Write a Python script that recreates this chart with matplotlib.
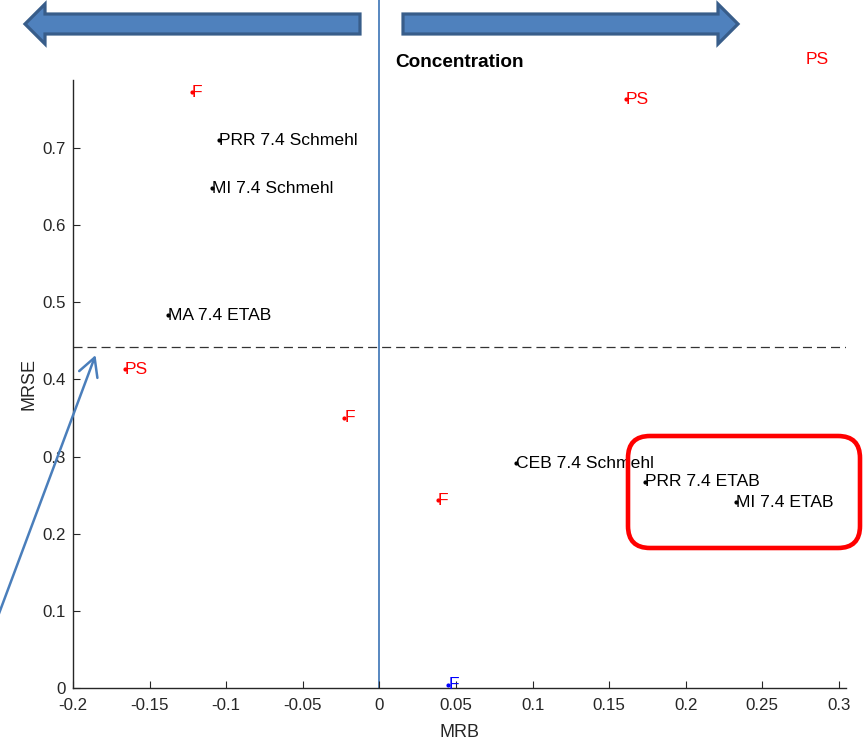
import matplotlib
matplotlib.use("Agg")
import matplotlib.pyplot as plt
from matplotlib.patches import Polygon, FancyBboxPatch, FancyArrowPatch
from matplotlib.transforms import Affine2D

plt.rcParams['font.family'] = ['Liberation Sans', 'DejaVu Sans']
plt.rcParams['lines.scale_dashes'] = False

# Method results: mean relative bias vs. mean relative standard error
labels = ['F', 'PRR 7.4 Schmehl', 'MI 7.4 Schmehl', 'MA 7.4 ETAB', 'PS', 'F', 'F',
          'F', 'CEB 7.4 Schmehl', 'PRR 7.4 ETAB', 'MI 7.4 ETAB', 'PS', 'PS']
mrb = [-0.1224, -0.1046, -0.1094, -0.1379, -0.166, -0.0229, 0.038,
       0.045, 0.0895, 0.1732, 0.2331, 0.1608, 0.2784]
mrse = [0.772, 0.710, 0.6475, 0.4834, 0.413, 0.350, 0.2436,
        0.004, 0.2916, 0.2673, 0.2406, 0.7628, 0.814]
colors = ['red', 'black', 'black', 'black', 'red', 'red', 'red',
          'blue', 'black', 'black', 'black', 'red', 'red']

threshold = 0.442
xticks = [-0.2, -0.15, -0.1, -0.05, 0, 0.05, 0.1, 0.15, 0.2, 0.25, 0.3]
xticklabels = ['-0.2', '-0.15', '-0.1', '-0.05', '0', '0.05', '0.1', '0.15', '0.2', '0.25', '0.3']
yticks = [0, 0.1, 0.2, 0.3, 0.4, 0.5, 0.6, 0.7]
yticklabels = ['0', '0.1', '0.2', '0.3', '0.4', '0.5', '0.6', '0.7']

W, H = 863, 741
fig = plt.figure(figsize=(W / 100, H / 100), dpi=100)
ax = fig.add_axes([73 / W, (H - 688) / H, (846 - 73) / W, (688 - 80) / H])

axcol = '#262626'
ax.set_xlim(-0.2, 0.3046)
ax.set_ylim(0, 0.788)
for s in ['top', 'right']:
    ax.spines[s].set_visible(False)
for s in ['left', 'bottom']:
    ax.spines[s].set_color(axcol)
    ax.spines[s].set_linewidth(1.0)
ax.set_xticks(xticks)
ax.set_xticklabels(xticklabels)
ax.set_yticks(yticks)
ax.set_yticklabels(yticklabels)
ax.tick_params(direction='in', length=5, width=0.8, colors=axcol, labelsize=12.2)
ax.tick_params(axis='x', pad=7)
ax.tick_params(axis='y', pad=5)
ax.set_xlabel('MRB', fontsize=13, color=axcol, labelpad=8)
ax.set_ylabel('MRSE', fontsize=13, color=axcol, labelpad=4)

# threshold line and zero-bias divider
ax.plot([-0.2, 0.3046], [threshold, threshold], color='#333333', lw=0.9,
        dashes=(6.5, 3.6))
ax.plot([0, 0], [0, 0.893], color='#4A7EBB', lw=1.3, clip_on=False, zorder=1)

for xv, yv, lab, c in zip(mrb, mrse, labels, colors):
    ax.plot(xv, yv, '.', color=c, ms=4, zorder=3)
    ax.text(xv, yv, lab, color=c, fontsize=12.6, ha='left', va='center',
            clip_on=False)

ax.text(0.0105, 0.811, 'Concentration', fontsize=13.7, fontweight='bold',
        ha='left', va='center', color='black', clip_on=False)

# overlay shapes drawn in pixel units (origin top-left)
pix = Affine2D().scale(1 / W, -1 / H).translate(0, 1) + fig.transFigure

left_arrow = [(25, 24), (45, 4), (45, 14), (360, 14), (360, 34), (45, 34), (45, 44)]
right_arrow = [(738, 24), (718, 4), (718, 14), (403, 14), (403, 34), (718, 34), (718, 44)]
for pts in (left_arrow, right_arrow):
    fig.patches.append(Polygon(pts, closed=True, facecolor='#4F81BD',
                               edgecolor='#385D8A', lw=2.3, transform=pix))

box = FancyBboxPatch((628, 436), 232, 112,
                     boxstyle='round,pad=0,rounding_size=22',
                     facecolor='none', edgecolor='red', lw=3.3, transform=pix)
fig.patches.append(box)

fig.patches.append(FancyArrowPatch(
    (-12, 643), (96.5, 352.5), arrowstyle='->,head_length=13,head_width=7',
    color='#4A7EBB', lw=1.8, transform=pix, mutation_scale=1))

fig.savefig('out.png', dpi=100)
